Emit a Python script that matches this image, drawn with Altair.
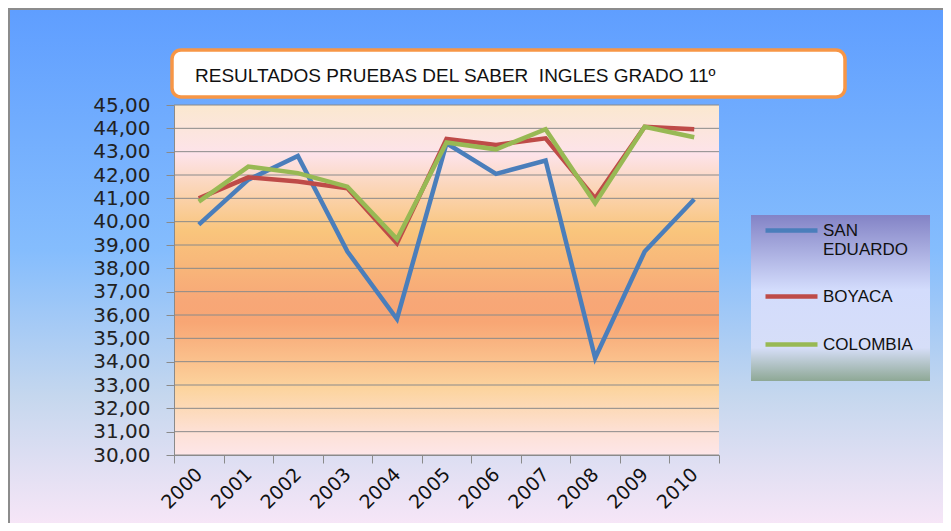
import altair as alt
import pandas as pd

years = [str(y) for y in range(2000, 2011)]
san_eduardo = [39.87, 41.80, 42.82, 38.72, 35.83, 43.36, 42.05, 42.62, 34.16, 38.72, 40.96]
boyaca = [41.00, 41.90, 41.72, 41.43, 39.08, 43.55, 43.29, 43.57, 41.00, 44.07, 43.96]
colombia = [40.86, 42.36, 42.08, 41.50, 39.25, 43.39, 43.10, 43.96, 40.79, 44.07, 43.62]
series = ["SAN EDUARDO", "BOYACA", "COLOMBIA"]
colors = ["#4a7ebb", "#be4b48", "#98b954"]
y_ticks = list(range(30, 46))
title_text = "RESULTADOS PRUEBAS DEL SABER \u00a0INGLES GRADO 11º"

rows = []
for name, vals in zip(series, [san_eduardo, boyaca, colombia]):
    for i, (yr, v) in enumerate(zip(years, vals)):
        rows.append({"year": yr, "value": v, "series": name, "ord": i})
df = pd.DataFrame(rows)
grid_df = pd.DataFrame({"value": y_ticks})
one = pd.DataFrame({"a": [0]})

W, H = 545, 350
PL, PT, PR, PB = 166, 97, 224, 68


def grad(stops):
    return {"gradient": "linear", "x1": 0, "y1": 0, "x2": 0, "y2": 1,
            "stops": [{"offset": o, "color": c} for o, c in stops]}


y_scale = alt.Scale(domain=[30, 45], nice=False, zero=False)
y_axis = alt.Axis(title=None, values=y_ticks,
                  labelExpr="replace(format(datum.value, '.2f'), '.', ',')",
                  labelFont="DejaVu Sans", labelFontSize=20, labelColor="#222",
                  tickSize=8, tickColor="#8a8a8a", domainColor="#8a8a8a",
                  labelPadding=16, grid=False, zindex=1)

outer = alt.Chart(one).mark_rect(
    fill=grad([(0, "#5f9eff"), (0.47, "#85bdfd"), (0.75, "#c5d7ee"), (1, "#f7e6f7")]),
    stroke="#8c8c8c", strokeWidth=2,
).encode(x=alt.value(-PL + 1), x2=alt.value(W + PR + 2), y=alt.value(-PT + 1), y2=alt.value(H + PB + 2))

plotbg = alt.Chart(one).mark_rect(
    fill=grad([(0, "#fbe8cf"), (0.14, "#fde3ea"), (0.24, "#fbd5b6"), (0.36, "#f9c57c"),
               (0.56, "#f7a777"), (0.62, "#f8a674"), (0.81, "#fcd49e"), (0.93, "#fde0d4"), (1, "#fde6e8")]),
).encode(x=alt.value(0), x2=alt.value(W), y=alt.value(0), y2=alt.value(H))

grid = alt.Chart(grid_df).mark_rule(color="#8a8a8a", strokeWidth=1).encode(
    y=alt.Y("value:Q", scale=y_scale, axis=y_axis)
)

title_box = alt.Chart(one).mark_rect(
    fill="white", stroke="#f79646", strokeWidth=3.5, cornerRadius=9
).encode(x=alt.value(-2), x2=alt.value(671), y=alt.value(-55), y2=alt.value(-8))

title_txt = alt.Chart(one).mark_text(
    text=title_text, align="left", baseline="middle", font="Liberation Sans", fontSize=19, color="#111"
).encode(x=alt.value(21), y=alt.value(-29))

legend_box = alt.Chart(one).mark_rect(
    fill=grad([(0, "#8383c6"), (0.45, "#d3dcfc"), (0.8, "#d6def8"), (1, "#8ea895")]),
).encode(x=alt.value(577), x2=alt.value(756), y=alt.value(110), y2=alt.value(276))

lines = alt.Chart(df).mark_line(strokeWidth=4.5).encode(
    x=alt.X("year:O", bandPosition=0.5,
            scale=alt.Scale(type="band", paddingInner=0, paddingOuter=0),
            axis=alt.Axis(title=None, labelAngle=-45, labelAlign="right", labelBaseline="middle",
                          labelFont="DejaVu Sans", labelFontSize=19, labelColor="#111",
                          tickBand="extent", tickSize=8, tickColor="#8a8a8a",
                          domainColor="#8a8a8a", labelPadding=8, grid=False, zindex=1)),
    y=alt.Y("value:Q", scale=y_scale, axis=y_axis),
    color=alt.Color("series:N", scale=alt.Scale(domain=series, range=colors),
                    legend=alt.Legend(title=None, orient="none", legendX=589, legendY=97,
                                      symbolType="stroke", symbolSize=2704, symbolStrokeWidth=4.5,
                                      labelFont="Liberation Sans", labelFontSize=17, labelColor="#111",
                                      labelOffset=3, rowPadding=10, padding=0, zindex=1,
                                      labelExpr="datum.label == 'SAN EDUARDO' ? ['SAN', 'EDUARDO'] : datum.label")),
    order="ord:Q",
)

chart = alt.layer(outer, plotbg, grid, title_box, title_txt, legend_box, lines).properties(
    width=W, height=H,
    autosize=alt.AutoSizeParams(type="none"),
    padding={"left": PL, "top": PT, "right": PR, "bottom": PB},
).configure_view(stroke=None)

chart.save("out.html", embed_options={"renderer": "svg", "actions": False})
